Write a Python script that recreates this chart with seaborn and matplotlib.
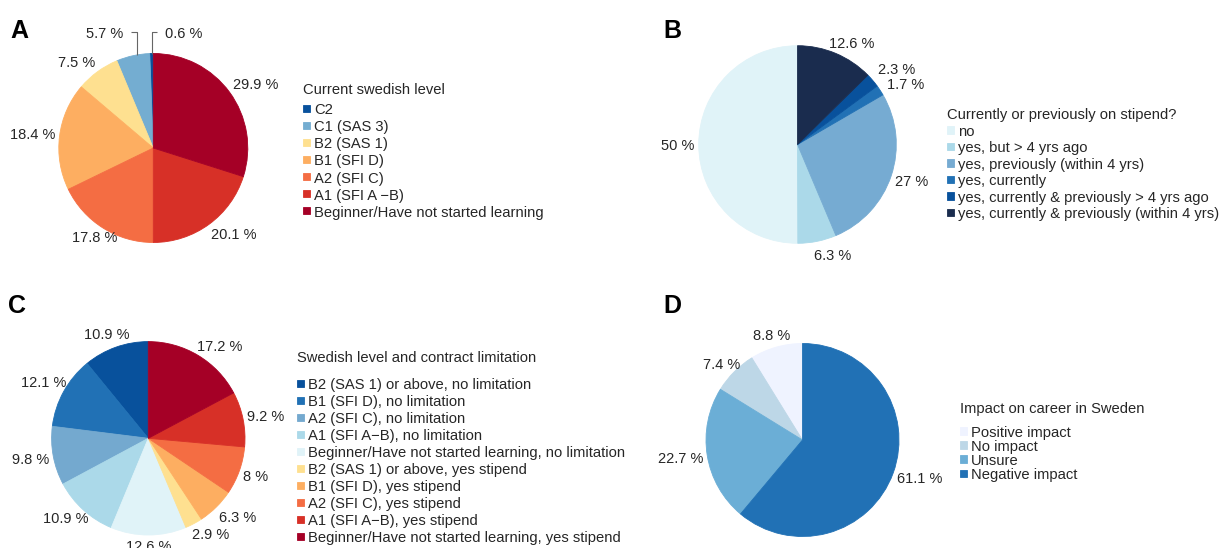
import numpy as np
import matplotlib
matplotlib.use("Agg")
import matplotlib.pyplot as plt
import matplotlib.patches as mpatches
from matplotlib.legend_handler import HandlerPatch
import seaborn as sns

# ---------------- data ----------------
level_labels = ["C2", "C1 (SAS 3)", "B2 (SAS 1)", "B1 (SFI D)", "A2 (SFI C)",
                "A1 (SFI A \u2212B)", "Beginner/Have not started learning"]
level_pct = [0.6, 5.7, 7.5, 18.4, 17.8, 20.1, 29.9]

stipend_labels = ["no", "yes, but > 4 yrs ago", "yes, previously (within 4 yrs)",
                  "yes, currently", "yes, currently & previously > 4 yrs ago",
                  "yes, currently & previously (within 4 yrs)"]
stipend_pct = [50, 6.3, 27, 1.7, 2.3, 12.6]

contract_labels = ["B2 (SAS 1) or above, no limitation", "B1 (SFI D), no limitation",
                   "A2 (SFI C), no limitation", "A1 (SFI A\u2212B), no limitation",
                   "Beginner/Have not started learning, no limitation",
                   "B2 (SAS 1) or above, yes stipend", "B1 (SFI D), yes stipend",
                   "A2 (SFI C), yes stipend", "A1 (SFI A\u2212B), yes stipend",
                   "Beginner/Have not started learning, yes stipend"]
contract_pct = [10.9, 12.1, 9.8, 10.9, 12.6, 2.9, 6.3, 8, 9.2, 17.2]

impact_labels = ["Positive impact", "No impact", "Unsure", "Negative impact"]
impact_pct = [8.8, 7.4, 22.7, 61.1]

# ---------------- palettes ----------------
level_colors = sns.color_palette(["#08519c", "#74add1", "#fee090", "#fdae61",
                                  "#f46d43", "#d73027", "#a50026"])
stipend_colors = sns.color_palette(["#e0f3f8", "#abd9e9", "#76abd2", "#2171b5",
                                    "#08519c", "#1a2c4e"])
contract_colors = sns.color_palette(["#08519c", "#2171b5", "#74a9cf", "#abd9e9",
                                     "#e0f3f8", "#fee090", "#fdae61", "#f46d43",
                                     "#d73027", "#a50026"])
impact_colors = sns.color_palette(["#eff3ff", "#bdd7e7", "#6baed6", "#2171b5"])

sns.set_theme(style="white")
plt.rcParams["font.family"] = ["Liberation Sans", "DejaVu Sans"]

TXT = "#262626"
W, H = 1229, 548
PAD = 1.75
fig = plt.figure(figsize=(W / 100, H / 100), dpi=100)
renderer = fig.canvas.get_renderer()


def pie_axes(cx, cy, r):
    h = r * PAD
    return fig.add_axes([(cx - h) / W, 1 - (cy + h) / H, 2 * h / W, 2 * h / H])


def draw_pie(ax, values, colors):
    wedges, _ = ax.pie(values, colors=colors, startangle=90, counterclock=True,
                       radius=1, wedgeprops=dict(linewidth=0.6))
    for w in wedges:
        w.set_edgecolor(w.get_facecolor())
    ax.set_xlim(-PAD, PAD)
    ax.set_ylim(-PAD, PAD)
    ax.set_aspect("equal")
    ax.axis("off")
    return wedges


def label_pie(ax, wedges, values, r, size=10.5, gap=4.0, nudges=None, leaders=None):
    """Percent labels just outside each wedge; the text box hugs the rim."""
    nudges = nudges or {}
    leaders = leaders or {}
    spx = size * 100 / 72
    hh = 6.5
    for i, (w, v) in enumerate(zip(wedges, values)):
        ang = np.deg2rad((w.theta1 + w.theta2) / 2)
        ux, uy = np.cos(ang), np.sin(ang)
        txt = f"{v:g} %"
        if i in leaders:
            side, rise, shift = leaders[i]
            ex = ux * r + shift
            ey = np.sqrt(r * r - ex * ex)
            ly = r + rise
            ax.plot(np.array([ex, ex, ex + side * 5.5]) / r,
                    np.array([ey, ly, ly]) / r,
                    color="#666666", lw=0.8, solid_capstyle="butt", clip_on=False)
            ax.text((ex + side * 13.5) / r, (ly - 0.358 * spx) / r, txt,
                    ha="left" if side > 0 else "right", va="baseline",
                    fontsize=size, color=TXT, clip_on=False)
            continue
        t = ax.text(0, 0, txt, ha="center", va="baseline", fontsize=size,
                    color=TXT, clip_on=False)
        hw = t.get_window_extent(renderer).width / 2
        cx = (r + gap) * ux + np.sign(ux) * hw * min(1.0, 1.7 * abs(ux))
        cy = (r + gap) * uy + np.sign(uy) * hh * min(1.0, 1.7 * abs(uy))
        ndx, ndy = nudges.get(i, (0, 0))
        t.set_position(((cx + ndx) / r, (cy - ndy - 0.358 * spx) / r))


def square_handle(legend, orig_handle, xdescent, ydescent, width, height, fontsize):
    s = 0.5 * fontsize
    return mpatches.Rectangle((-xdescent, -ydescent + 0.1 * fontsize), s, s)


def key(wedges, labels, title, x, y_title, y_first, step, fs=10.6):
    fpx = fs * 100 / 72
    fig.text(x / W, 1 - (y_title + 0.36 * fpx) / H, title, ha="left",
             va="baseline", fontsize=fs, color=TXT)
    top = y_first - 0.398 * fpx
    row_h = 14.0
    fig.legend(wedges, labels, loc="upper left",
               bbox_to_anchor=(x / W, 1 - top / H), frameon=False,
               fontsize=fs, borderpad=0, borderaxespad=0,
               handlelength=0.5, handleheight=0.55, handletextpad=0.25,
               labelspacing=(step - row_h) / fpx, labelcolor=TXT,
               handler_map={mpatches.Wedge: HandlerPatch(patch_func=square_handle)})


def letter(s, x, y):
    fig.text(x / W, 1 - y / H, s, ha="left", va="baseline", fontsize=18,
             fontweight="bold", color="black")


# ---- A: current Swedish level ----
rA = 94.5
axA = pie_axes(153.3, 148, rA)
wA = draw_pie(axA, level_pct, level_colors)
label_pie(axA, wA, level_pct, rA, nudges={4: (14, -1)},
          leaders={0: (1, 21, 0), 1: (-1, 21, 4)})
key(wA, level_labels, "Current swedish level", 303, 89, 109, 17.1)
letter("A", 10, 38)

# ---- B: stipend ----
rB = 98.8
axB = pie_axes(797.5, 144.5, rB)
wB = draw_pie(axB, stipend_pct, stipend_colors)
label_pie(axB, wB, stipend_pct, rB, nudges={1: (8, 3), 3: (4, 2), 4: (2, -3)})
key(wB, stipend_labels, "Currently or previously on stipend?", 947, 114, 130.7, 16.5)
letter("B", 663, 38)

# ---- C: level and contract limitation ----
rC = 96.7
axC = pie_axes(148.3, 438.3, rC)
wC = draw_pie(axC, contract_pct, contract_colors)
label_pie(axC, wC, contract_pct, rC, nudges={0: (5, -3), 1: (6, -2), 3: (8, -2)})
key(wC, contract_labels, "Swedish level and contract limitation", 297, 356.7, 384, 17.0)
letter("C", 8, 313)

# ---- D: impact on career ----
rD = 96.5
axD = pie_axes(802.5, 440, rD)
wD = draw_pie(axD, impact_pct, impact_colors)
label_pie(axD, wD, impact_pct, rD, nudges={0: (5, -2), 1: (9, 1)})
key(wD, impact_labels, "Impact on career in Sweden", 960, 407.3, 431.7, 14.1)
letter("D", 663, 313)

fig.savefig("out.png", dpi=100)
